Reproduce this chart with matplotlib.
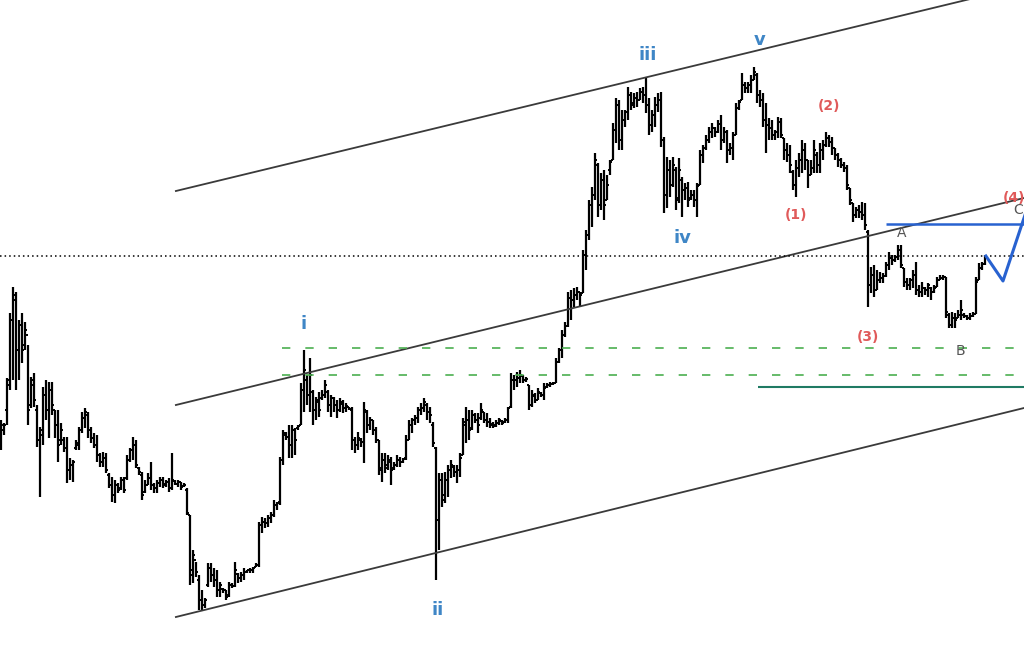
import matplotlib
matplotlib.use("Agg")
import matplotlib.pyplot as plt
import numpy as np

# daily OHLC bars (price units)
highs = [280, 277, 322, 387, 413, 408, 380, 387, 378, 355, 323, 327, 295, 273, 313, 320, 318, 318, 290, 290,
         277, 263, 263, 242, 240, 260, 273, 288, 292, 288, 273, 267, 265, 247, 248, 247, 227, 223, 220, 217,
         223, 223, 245, 252, 263, 260, 233, 228, 220, 227, 238, 217, 220, 223, 223, 220, 222, 247, 220, 220,
         218, 217,
         212, 185, 150, 138, 125, 110, 102, 137, 137, 132, 130, 118, 112, 110, 118, 117, 138, 127, 128, 132,
         130, 132, 133, 137, 178, 183, 182, 185, 188, 200, 198, 243, 270, 268, 275, 275, 272, 275, 317, 350,
         325, 342, 310, 303, 308, 310, 320, 310, 305, 303, 300, 302, 300, 297, 293, 293, 263, 268, 262, 298,
         290, 283, 280, 273, 260, 247, 247, 245, 243, 238, 245, 243, 242, 265, 280, 282, 285, 293, 297, 302,
         297, 293, 278,
         253, 227, 227, 228, 235, 240, 235, 235, 247, 282, 293, 290, 290, 287, 287, 297, 288, 287, 282, 278,
         280, 282, 280, 282, 293, 327, 325, 328, 330, 325, 323, 315, 310, 307, 312, 308, 317, 317, 318, 318,
         342, 352, 370, 378, 408, 410, 412, 413, 408, 450, 470,
         500, 513, 547, 537, 527, 530, 525, 540, 577, 602, 600, 590, 590, 613, 608, 607, 608, 612, 613, 623,
         602, 590, 603, 607, 608, 563, 543, 540, 543, 533, 542, 523, 517, 518, 510, 510, 517, 550, 555, 565,
         573, 577, 573, 580, 585, 573, 570, 557, 568, 597, 600, 627, 618, 618, 625, 633, 627,
         610, 607, 597, 582, 580, 570, 583, 582, 562, 557, 555, 530, 540, 547, 560, 557, 540, 540, 560, 548,
         557, 560, 568, 565, 563, 552, 547, 542, 538, 535, 512, 497, 493, 495, 498, 497, 470, 433, 435, 430,
         428, 427, 438, 448, 445, 445, 455, 455, 432, 422, 422, 430, 438, 415, 418, 413, 417, 413, 415, 423,
         425, 425, 423, 387, 388, 387, 390, 400, 387, 385, 387, 388, 423, 437, 438, 445]
lows = [250, 265, 275, 310, 320, 310, 320, 337, 350, 275, 292, 293, 253, 203, 255, 280, 262, 285, 262, 238,
        255, 248, 217, 220, 218, 250, 250, 267, 272, 262, 257, 252, 238, 233, 233, 227, 212, 198, 197, 207,
        210, 207, 220, 238, 240, 232, 225, 200, 207, 215, 210, 207, 207, 213, 212, 213, 208, 210, 215, 213,
        210, 213,
        185, 115, 117, 123, 90, 90, 92, 113, 118, 113, 103, 103, 107, 100, 103, 112, 113, 117, 118, 120,
        127, 127, 127, 133, 133, 167, 172, 173, 177, 183, 190, 195, 235, 260, 242, 242, 245, 270, 275, 288,
        295, 288, 275, 280, 283, 300, 302, 288, 283, 288, 282, 288, 287, 288, 290, 250, 247, 250, 253, 237,
        267, 270, 265, 257, 225, 218, 227, 230, 215, 230, 233, 233, 237, 240, 260, 267, 275, 277, 285, 288,
        280, 277, 253,
        120, 150, 193, 197, 203, 222, 223, 217, 223, 245, 257, 260, 270, 277, 267, 280, 277, 273, 272, 272,
        273, 275, 275, 277, 277, 292, 310, 313, 317, 317, 318, 290, 293, 297, 300, 303, 300, 312, 313, 315,
        317, 337, 342, 363, 373, 380, 393, 400, 393, 407, 430,
        460, 473, 500, 483, 490, 480, 500, 525, 540, 557, 550, 550, 573, 580, 590, 592, 593, 600, 597, 587,
        565, 568, 573, 588, 553, 487, 492, 503, 513, 490, 497, 483, 500, 493, 500, 493, 483, 515, 537, 550,
        557, 562, 563, 567, 550, 557, 537, 545, 540, 565, 590, 600, 607, 607, 607, 620, 597,
        593, 573, 547, 560, 560, 560, 562, 562, 540, 538, 527, 510, 503, 523, 527, 530, 512, 525, 527, 527,
        527, 540, 553, 553, 545, 540, 533, 532, 528, 510, 495, 478, 482, 482, 480, 470, 393, 407, 403, 410,
        417, 417, 423, 430, 435, 438, 440, 432, 413, 410, 410, 412, 405, 403, 403, 405, 403, 400, 407, 413,
        420, 420, 382, 372, 372, 372, 382, 380, 382, 380, 380, 383, 386, 420, 430, 435]
opens = [255, 270, 290, 315, 380, 400, 350, 375, 355, 365, 295, 315, 290, 260, 265, 305, 290, 310, 290, 275,
         260, 260, 252, 230, 235, 252, 255, 270, 282, 285, 270, 262, 255, 245, 238, 242, 225, 215, 205, 215,
         212, 220, 222, 240, 250, 255, 232, 225, 208, 215, 222, 215, 212, 217, 220, 216, 218, 212, 219, 216,
         218, 214,
         210, 185, 130, 140, 120, 100, 95, 115, 132, 125, 120, 110, 111, 110, 105, 115, 114, 126, 122, 125,
         128, 130, 130, 133, 135, 175, 178, 177, 182, 185, 195, 198, 240, 265, 263, 255, 270, 272, 275, 310,
         320, 305, 308, 290, 298, 302, 305, 308, 295, 302, 295, 290, 296, 292, 293, 290, 260, 255, 260, 258,
         288, 275, 280, 270, 260, 232, 240, 235, 238, 232, 235, 240, 238, 242, 260, 275, 280, 282, 290, 292,
         295, 288, 275,
         252, 180, 220, 205, 220, 230, 233, 228, 230, 245, 275, 280, 272, 285, 280, 282, 288, 280, 278, 276,
         275, 277, 279, 278, 280, 293, 320, 320, 322, 324, 320, 315, 295, 304, 300, 307, 305, 313, 315, 316,
         317, 338, 350, 365, 374, 402, 400, 405, 408, 407, 445,
         465, 495, 505, 535, 495, 520, 500, 530, 540, 570, 595, 560, 580, 588, 605, 597, 602, 600, 608, 605,
         595, 575, 585, 595, 600, 560, 505, 530, 515, 530, 502, 520, 510, 512, 502, 505, 500, 515, 545, 552,
         560, 568, 572, 568, 576, 560, 568, 550, 552, 565, 592, 600, 615, 612, 615, 620, 625,
         605, 600, 580, 575, 572, 565, 568, 578, 562, 550, 545, 528, 515, 532, 540, 550, 540, 525, 532, 545,
         535, 550, 555, 562, 558, 552, 545, 540, 535, 532, 512, 497, 485, 490, 488, 485, 468, 415, 425, 410,
         420, 422, 424, 435, 442, 440, 443, 450, 432, 418, 415, 420, 425, 410, 408, 412, 410, 412, 408, 413,
         420, 422, 423, 385, 375, 382, 382, 385, 385, 384, 382, 384, 386, 420, 432, 436]
closes = [275, 275, 320, 380, 405, 350, 375, 350, 370, 290, 320, 300, 260, 270, 305, 290, 310, 295, 275, 255,
          270, 252, 230, 235, 238, 257, 270, 282, 288, 270, 262, 255, 245, 238, 242, 230, 215, 205, 215, 210,
          220, 210, 240, 250, 255, 235, 228, 205, 215, 222, 215, 212, 217, 220, 215, 218, 212, 220, 216, 218,
          213, 215,
          187, 125, 145, 128, 100, 95, 100, 132, 125, 120, 110, 115, 110, 103, 115, 114, 130, 122, 125, 128,
          130, 130, 132, 135, 175, 178, 177, 182, 185, 195, 197, 240, 267, 263, 255, 270, 260, 274, 310, 330,
          305, 325, 290, 300, 290, 305, 315, 295, 302, 295, 290, 298, 292, 294, 291, 260, 255, 262, 258, 290,
          275, 280, 270, 260, 230, 240, 232, 240, 230, 235, 240, 238, 241, 260, 275, 280, 282, 290, 292, 298,
          288, 285, 257,
          180, 220, 200, 220, 230, 235, 228, 230, 242, 278, 280, 270, 285, 280, 275, 290, 280, 278, 275, 274,
          277, 280, 277, 280, 292, 320, 320, 322, 325, 320, 321, 295, 305, 300, 308, 305, 312, 315, 316, 317,
          338, 350, 365, 374, 402, 400, 405, 408, 405, 445, 465,
          495, 505, 540, 495, 520, 495, 515, 538, 570, 595, 560, 580, 588, 605, 595, 602, 600, 608, 605, 595,
          575, 585, 595, 600, 560, 505, 530, 515, 535, 500, 530, 510, 512, 500, 505, 500, 514, 545, 552, 560,
          568, 572, 568, 576, 560, 568, 550, 552, 565, 592, 598, 615, 612, 615, 620, 628, 605,
          600, 580, 575, 572, 565, 568, 578, 565, 550, 545, 535, 515, 532, 540, 550, 540, 525, 532, 550, 535,
          550, 555, 562, 558, 552, 545, 540, 535, 532, 515, 500, 485, 490, 488, 485, 475, 415, 425, 410, 420,
          422, 424, 435, 442, 440, 443, 450, 435, 418, 415, 420, 425, 410, 408, 412, 410, 415, 408, 412, 420,
          422, 423, 388, 375, 382, 380, 385, 390, 384, 382, 384, 386, 418, 432, 436, 442]

# wave channel: (bar index, price) at both ends
upper_channel = [(58.3, 509), (341.0, 714)]
middle_channel = [(58.3, 295), (341.0, 502)]
lower_channel = [(58.3, 83), (341.0, 292)]

ref_level = 444           # dotted line
fib_levels = [352, 325]   # green dashed
fib_start = 93.7
support_level = 313
support_start = 252.3
wave_a_level = 476
wave_a_start = 295.0
projection = [(328.3, 444), (334.0, 419), (343.0, 500)]

wave_labels = [("i", 101.0, 376), ("ii", 145.7, 90), ("iii", 215.7, 645), ("iv", 227.3, 462),
               ("v", 253.0, 660)]
sub_labels = [("(1)", 265.0, 485), ("(2)", 276.0, 594), ("(3)", 289.0, 363), ("(4)", 337.8, 502)]
abc_labels = [("A", 300.3, 467), ("B", 319.7, 349), ("C", 339.2, 490)]

fig = plt.figure(figsize=(10.24, 6.66), dpi=100)
ax = fig.add_axes([0, 0, 1, 1])

idx = np.arange(len(highs))
ax.vlines(idx, lows, highs, color='black', lw=1.6)
ax.hlines(opens, idx - 0.6, idx, color='black', lw=1.4)
ax.hlines(closes, idx, idx + 0.6, color='black', lw=1.4)

for line in [upper_channel, middle_channel, lower_channel]:
    ax.plot([line[0][0], line[1][0]], [line[0][1], line[1][1]], color='#3a3a3a', lw=1.3)

ax.axhline(ref_level, color='black', lw=1.1, ls=(0, (1, 2)))
for lvl in fib_levels:
    ax.hlines(lvl, fib_start, 345, color='#4caf50', lw=1.2, linestyles=(0, (5, 9)))
ax.hlines(support_level, support_start, 345, color='#1f7a63', lw=1.5)
ax.hlines(wave_a_level, wave_a_start, 345, color='#2862d0', lw=1.8)
ax.plot([p[0] for p in projection], [p[1] for p in projection], color='#2862d0', lw=2.2)

for txt, x, y in wave_labels:
    ax.text(x, y, txt, color='#3f86c6', fontsize=13, fontweight='bold', ha='center', va='center')
for txt, x, y in sub_labels:
    ax.text(x, y, txt, color='#e05a5a', fontsize=10, fontweight='bold', ha='center', va='center')
for txt, x, y in abc_labels:
    ax.text(x, y, txt, color='#555555', fontsize=10, ha='center', va='center')

ax.set_xlim(-0.333, 341.0)
ax.set_ylim(34, 700)
ax.axis('off')

fig.savefig('out.png', dpi=100, facecolor='white')
